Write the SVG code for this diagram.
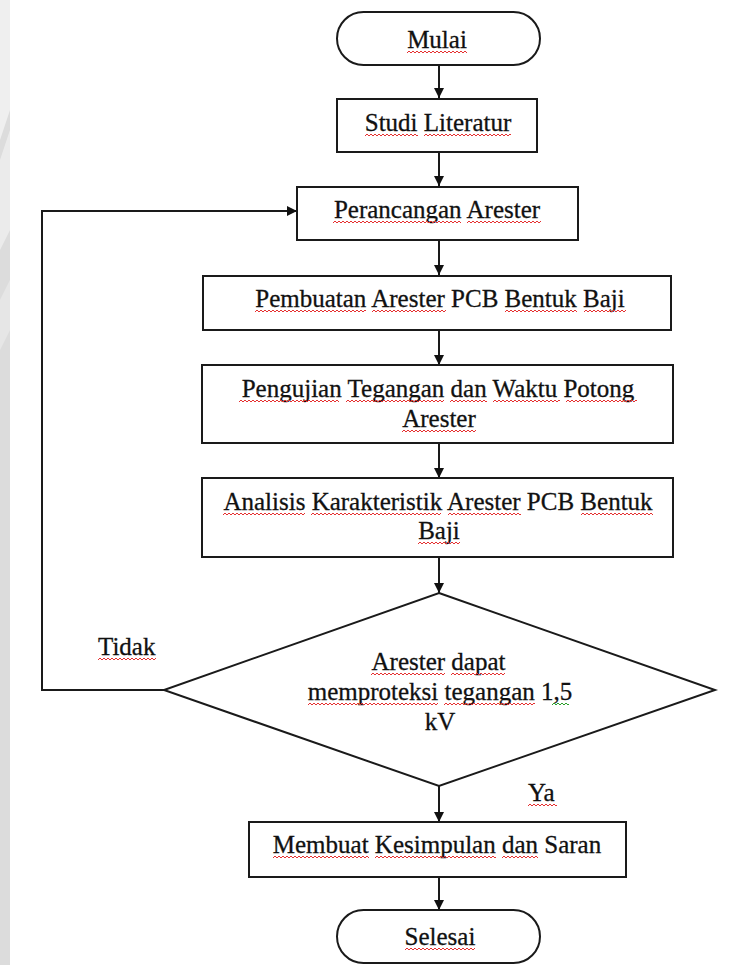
<svg xmlns="http://www.w3.org/2000/svg" width="744" height="965" viewBox="0 0 744 965">
<defs>
<style>
.bg{fill:#ffffff}
.shape{fill:#ffffff;stroke:#1a1a1a;stroke-width:2}
.line{fill:none;stroke:#1a1a1a;stroke-width:2}
text{font-family:"Liberation Serif","Times New Roman",serif;font-size:25px;fill:#111111;stroke:#111111;stroke-width:0.3}
.c{text-anchor:middle}
.sq{fill:url(#red)}
.gq{fill:url(#green)}
</style>
<pattern id="red" patternUnits="userSpaceOnUse" x="0" y="0" width="4" height="4">
<path d="M0,3 L2,1 L4,3" fill="none" stroke="#e53030" stroke-width="1"/>
</pattern>
<pattern id="green" patternUnits="userSpaceOnUse" x="0" y="0" width="4" height="4">
<path d="M0,3 L2,1 L4,3" fill="none" stroke="#2aa02a" stroke-width="1"/>
</pattern>
<marker id="ah" viewBox="0 0 10 10" refX="10" refY="5" markerWidth="10" markerHeight="10" markerUnits="userSpaceOnUse" orient="auto">
<path d="M0,0 L10,5 L0,10 z" fill="#111111"/>
</marker>
</defs>
<rect class="bg" x="0" y="0" width="744" height="965"/>
<g id="watermark">
<rect x="0" y="0" width="10" height="965" fill="#dcdcdc"/>
<path d="M0,0 L10,0 L10,110 L0,140 z" fill="#efefef"/>
<path d="M0,160 L10,130 L10,230 L0,250 z" fill="#ebebeb"/>
<path d="M0,300 L10,280 L10,330 L0,350 z" fill="#e6e6e6"/>
</g>
<g id="connectors">
<line class="line" x1="439" y1="65" x2="439" y2="98" marker-end="url(#ah)"/>
<line class="line" x1="439" y1="152" x2="439" y2="186" marker-end="url(#ah)"/>
<line class="line" x1="439" y1="240" x2="439" y2="275" marker-end="url(#ah)"/>
<line class="line" x1="439" y1="330" x2="439" y2="365" marker-end="url(#ah)"/>
<line class="line" x1="439" y1="443" x2="439" y2="478" marker-end="url(#ah)"/>
<line class="line" x1="439" y1="557" x2="439" y2="593" marker-end="url(#ah)"/>
<line class="line" x1="439" y1="786" x2="439" y2="822" marker-end="url(#ah)"/>
<line class="line" x1="439" y1="877" x2="439" y2="910" marker-end="url(#ah)"/>
<polyline class="line" points="165,690 42,690 42,211 297,211" marker-end="url(#ah)"/>
<text x="98" y="655"><tspan>Tidak</tspan></text>
<rect class="sq" transform="translate(98,657)" width="58" height="4"/>
<text x="528" y="801"><tspan>Ya</tspan></text>
<rect class="sq" transform="translate(528,803)" width="29" height="4"/>
</g>
<g id="mulai">
<rect class="shape" x="337" y="12" width="203" height="53" rx="26.5" ry="26.5"/>
<text class="c" x="437" y="48"><tspan>Mulai</tspan></text>
<rect class="sq" transform="translate(407,50)" width="60" height="4"/>
</g>
<g id="studi-literatur">
<rect class="shape" x="337" y="99" width="200" height="53"/>
<text class="c" x="438" y="131"><tspan>Studi</tspan> <tspan>Literatur</tspan></text>
<rect class="sq" transform="translate(365,133)" width="53" height="4"/>
<rect class="sq" transform="translate(424,133)" width="87" height="4"/>
</g>
<g id="perancangan">
<rect class="shape" x="297" y="187" width="281" height="53"/>
<text class="c" x="437" y="218"><tspan>Perancangan</tspan> <tspan>Arester</tspan></text>
<rect class="sq" transform="translate(333,220)" width="128" height="4"/>
<rect class="sq" transform="translate(467,220)" width="74" height="4"/>
</g>
<g id="pembuatan">
<rect class="shape" x="203" y="276" width="468" height="54"/>
<text class="c" x="440" y="307"><tspan>Pembuatan</tspan> <tspan>Arester</tspan> <tspan>PCB</tspan> <tspan>Bentuk</tspan> <tspan>Baji</tspan></text>
<rect class="sq" transform="translate(255,309)" width="111" height="4"/>
<rect class="sq" transform="translate(372,309)" width="74" height="4"/>
<rect class="sq" transform="translate(505,309)" width="72" height="4"/>
<rect class="sq" transform="translate(584,309)" width="42" height="4"/>
</g>
<g id="pengujian">
<rect class="shape" x="202" y="365" width="471" height="78"/>
<text class="c" x="438" y="397"><tspan>Pengujian</tspan> <tspan>Tegangan</tspan> <tspan>dan</tspan> <tspan>Waktu</tspan> <tspan>Potong</tspan></text>
<text class="c" x="439" y="427"><tspan>Arester</tspan></text>
<rect class="sq" transform="translate(239,399)" width="100" height="4"/>
<rect class="sq" transform="translate(346,399)" width="98" height="4"/>
<rect class="sq" transform="translate(450,399)" width="37" height="4"/>
<rect class="sq" transform="translate(493,399)" width="67" height="4"/>
<rect class="sq" transform="translate(566,399)" width="71" height="4"/>
<rect class="sq" transform="translate(402,429)" width="74" height="4"/>
</g>
<g id="analisis">
<rect class="shape" x="202" y="478" width="471" height="79"/>
<text class="c" x="438" y="510"><tspan>Analisis</tspan> <tspan>Karakteristik</tspan> <tspan>Arester</tspan> <tspan>PCB</tspan> <tspan>Bentuk</tspan></text>
<text class="c" x="439" y="539"><tspan>Baji</tspan></text>
<rect class="sq" transform="translate(223,512)" width="82" height="4"/>
<rect class="sq" transform="translate(311,512)" width="130" height="4"/>
<rect class="sq" transform="translate(448,512)" width="73" height="4"/>
<rect class="sq" transform="translate(581,512)" width="72" height="4"/>
<rect class="sq" transform="translate(418,541)" width="42" height="4"/>
</g>
<g id="keputusan">
<polygon class="shape" points="439,593 715,690 439,786 164,690"/>
<text class="c" x="438.5" y="670"><tspan>Arester</tspan> <tspan>dapat</tspan></text>
<text class="c" x="440" y="700"><tspan>memproteksi</tspan> <tspan>tegangan</tspan> <tspan>1,5</tspan></text>
<text class="c" x="440" y="730"><tspan>kV</tspan></text>
<rect class="sq" transform="translate(371,672)" width="74" height="4"/>
<rect class="sq" transform="translate(451,672)" width="54" height="4"/>
<rect class="sq" transform="translate(308,702)" width="130" height="4"/>
<rect class="sq" transform="translate(444,702)" width="91" height="4"/>
<rect class="gq" transform="translate(552,702)" width="17" height="4"/>
</g>
<g id="kesimpulan">
<rect class="shape" x="249" y="822" width="377" height="55"/>
<text class="c" x="437" y="853"><tspan>Membuat</tspan> <tspan>Kesimpulan</tspan> <tspan>dan</tspan> <tspan>Saran</tspan></text>
<rect class="sq" transform="translate(273,855)" width="96" height="4"/>
<rect class="sq" transform="translate(375,855)" width="121" height="4"/>
<rect class="sq" transform="translate(502,855)" width="36" height="4"/>
</g>
<g id="selesai">
<rect class="shape" x="337" y="910" width="203" height="53" rx="26.5" ry="26.5"/>
<text class="c" x="440" y="945"><tspan>Selesai</tspan></text>
<rect class="sq" transform="translate(405,947)" width="70" height="4"/>
</g>
</svg>
